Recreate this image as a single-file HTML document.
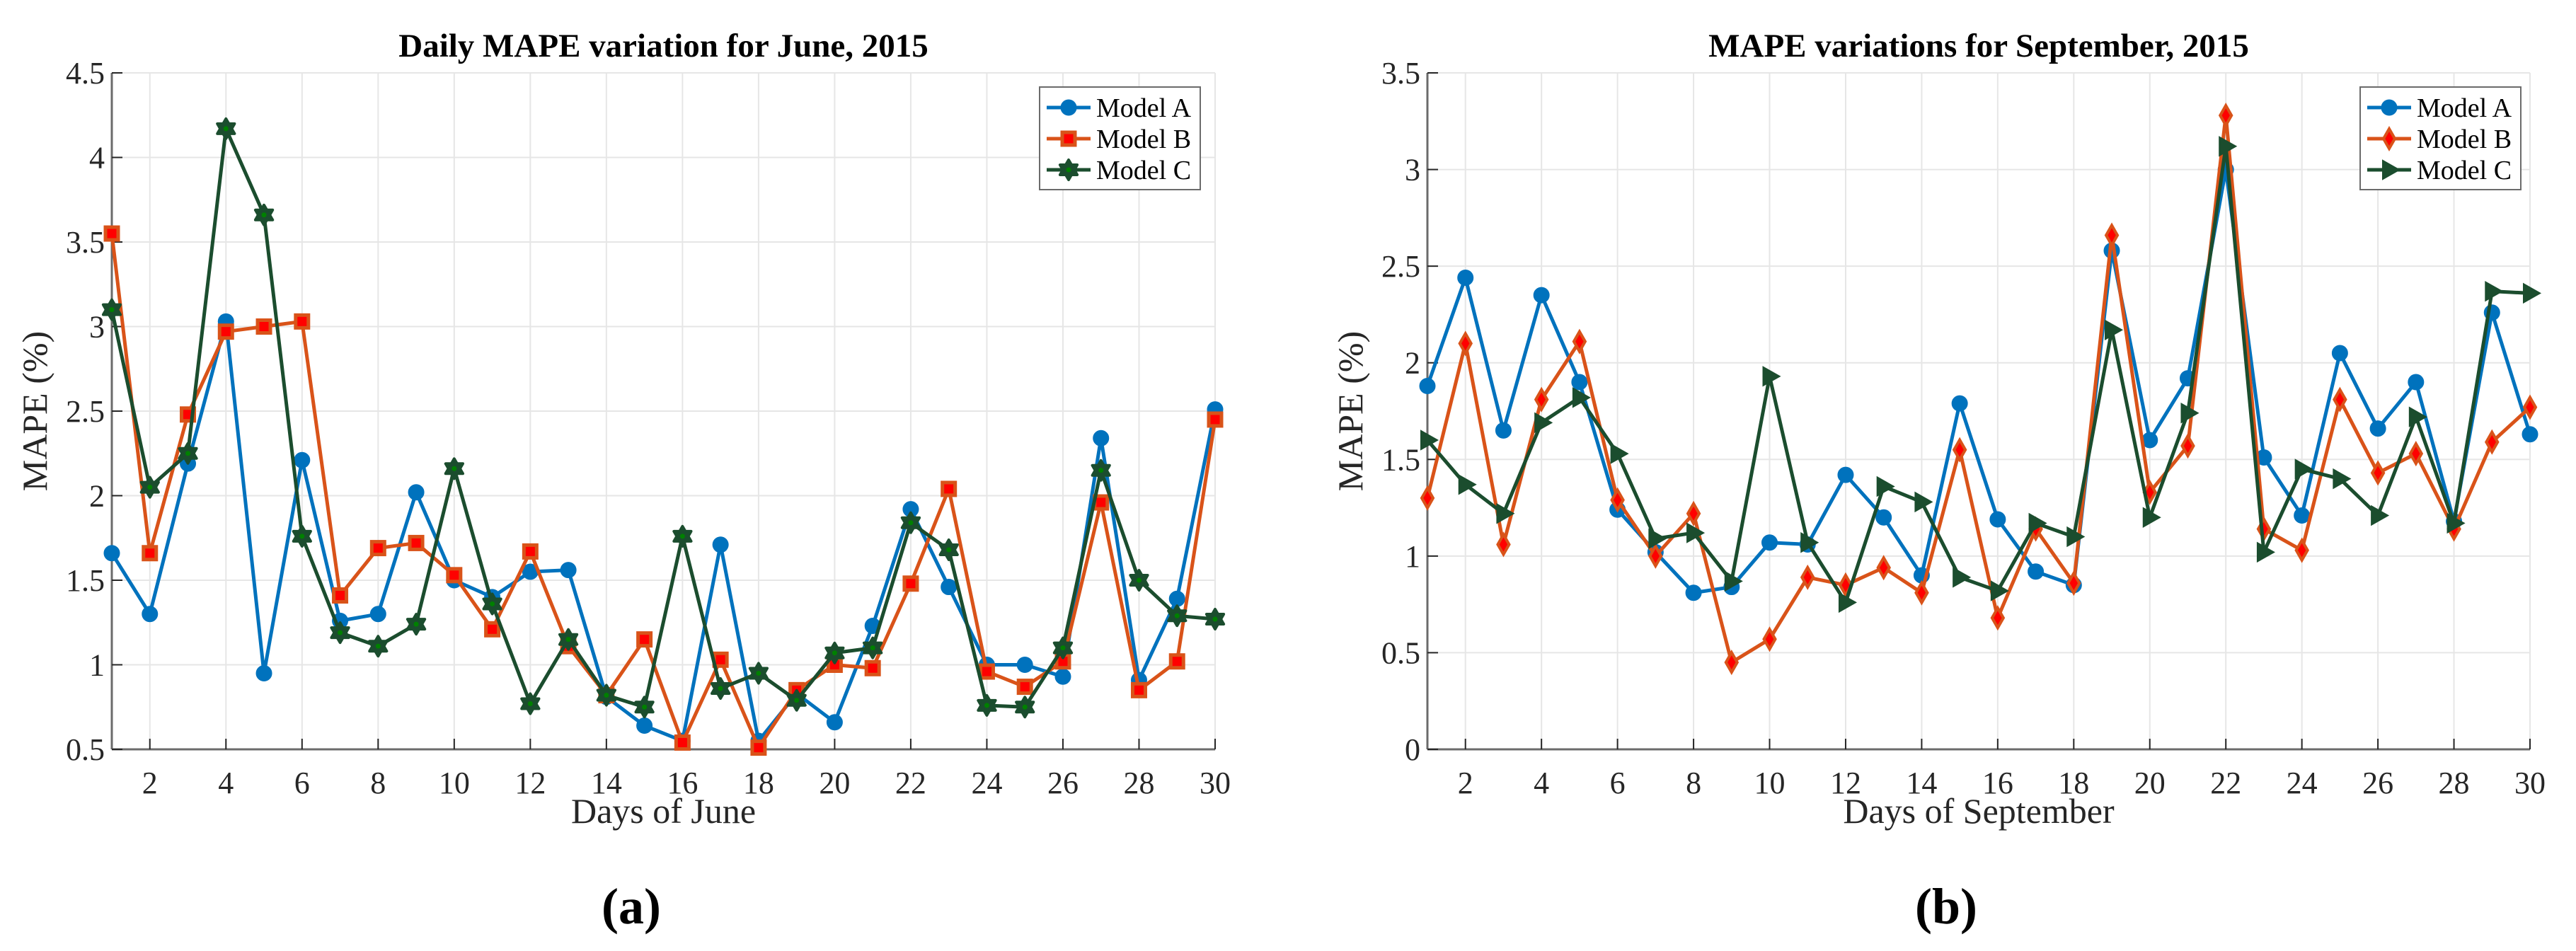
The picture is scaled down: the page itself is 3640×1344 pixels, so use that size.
<!DOCTYPE html>
<html><head><meta charset="utf-8"><style>
html,body{margin:0;padding:0;background:#fff;}
svg{display:block;font-family:"Liberation Serif",serif;}
</style></head><body>
<svg id="fig" width="3640" height="1344" viewBox="0 0 3640 1344" xmlns="http://www.w3.org/2000/svg"></svg>
<script>
const days = Array.from({length:30},(_,i)=>i+1);
const xTicks = [2,4,6,8,10,12,14,16,18,20,22,24,26,28,30];
const juneYTicks = [0.5,1,1.5,2,2.5,3,3.5,4,4.5];
const juneYLabels = ["0.5","1","1.5","2","2.5","3","3.5","4","4.5"];
const septYTicks = [0,0.5,1,1.5,2,2.5,3,3.5];
const septYLabels = ["0","0.5","1","1.5","2","2.5","3","3.5"];
const juneA = [1.66,1.30,2.19,3.03,0.95,2.21,1.26,1.30,2.02,1.50,1.40,1.55,1.56,0.81,0.64,0.55,1.71,0.55,0.83,0.66,1.23,1.92,1.46,1.00,1.00,0.93,2.34,0.91,1.39,2.51];
const juneB = [3.55,1.66,2.48,2.97,3.00,3.03,1.41,1.69,1.72,1.53,1.21,1.67,1.11,0.82,1.15,0.54,1.03,0.51,0.85,1.00,0.98,1.48,2.04,0.96,0.87,1.02,1.96,0.85,1.02,2.45];
const juneC = [3.10,2.05,2.25,4.17,3.66,1.76,1.19,1.11,1.24,2.16,1.36,0.77,1.15,0.82,0.75,1.76,0.86,0.95,0.79,1.07,1.10,1.84,1.68,0.76,0.75,1.10,2.15,1.50,1.29,1.27];
const septA = [1.88,2.44,1.65,2.35,1.90,1.24,1.02,0.81,0.84,1.07,1.06,1.42,1.20,0.90,1.79,1.19,0.92,0.85,2.58,1.60,1.92,3.00,1.51,1.21,2.05,1.66,1.90,1.18,2.26,1.63];
const septB = [1.30,2.10,1.06,1.81,2.11,1.29,1.00,1.22,0.45,0.57,0.89,0.85,0.94,0.81,1.55,0.68,1.14,0.86,2.66,1.33,1.57,3.28,1.14,1.03,1.81,1.43,1.53,1.14,1.59,1.77];
const septC = [1.60,1.37,1.22,1.69,1.82,1.53,1.09,1.12,0.87,1.93,1.07,0.76,1.36,1.28,0.89,0.82,1.17,1.10,2.17,1.20,1.74,3.12,1.02,1.45,1.40,1.21,1.72,1.17,2.37,2.36];
const seriesNames = ["Model A","Model B","Model C"];

const NS="http://www.w3.org/2000/svg";
const svg=document.getElementById('fig');
function mk(tag,attrs,parent){const e=document.createElementNS(NS,tag);for(const k in attrs)e.setAttribute(k,attrs[k]);(parent||svg).appendChild(e);return e;}
const COL={A:"#0072BD",B:"#D95319",C:"#1B4D2E"};

function marker(g,type,x,y){
  let m;
  if(type==='circle'){m=mk('circle',{cx:x,cy:y,r:11,fill:COL.A,stroke:COL.A,'stroke-width':1},g);}
  else if(type==='square'){m=mk('rect',{x:x-9,y:y-9,width:18,height:18,fill:'#ff0000',stroke:COL.B,'stroke-width':5},g);}
  else if(type==='diamond'){m=mk('polygon',{points:`${x},${y-14} ${x+8},${y} ${x},${y+14} ${x-8},${y}`,fill:'#ff0000',stroke:COL.B,'stroke-width':4},g);}
  else if(type==='hexagram'){const r=14,pts1=[],pts2=[];for(let i=0;i<3;i++){let a=-Math.PI/2+i*2*Math.PI/3;pts1.push((x+r*Math.cos(a)).toFixed(1)+','+(y+r*Math.sin(a)).toFixed(1));a+=Math.PI;pts2.push((x+r*Math.cos(a)).toFixed(1)+','+(y+r*Math.sin(a)).toFixed(1));}
    m=mk('g',{},g);mk('polygon',{points:pts1.join(' '),fill:COL.C,stroke:COL.C,'stroke-width':4,'stroke-linejoin':'round'},m);mk('polygon',{points:pts2.join(' '),fill:COL.C,stroke:COL.C,'stroke-width':4,'stroke-linejoin':'round'},m);
    mk('circle',{cx:x,cy:y,r:3.5,fill:'#008000'},m);}
  else if(type==='triangle'){m=mk('polygon',{points:`${x+14},${y} ${x-9},${y-13} ${x-9},${y+13}`,fill:COL.C,stroke:COL.C,'stroke-width':2},g);}
  return m;
}

function chart(cfg){
  const g=mk('g',{});
  
  
  const L=cfg.L,R=cfg.R,T=cfg.T,Bt=cfg.Bt,ymin=cfg.ymin,ymax=cfg.ymax;
  const xs=d=>L+(d-1)*(R-L)/29;
  const ys=v=>Bt-(v-ymin)*(Bt-T)/(ymax-ymin);
  const grid=mk('g',{},g);
  
  
  xTicks.forEach(t=>mk('line',{x1:xs(t),x2:xs(t),y1:T,y2:Bt,stroke:'#e6e6e6','stroke-width':2},grid));
  cfg.yTicks.forEach(t=>mk('line',{x1:L,x2:R,y1:ys(t),y2:ys(t),stroke:'#e6e6e6','stroke-width':2},grid));
  const ax=mk('g',{},g);
  
  
  mk('line',{x1:L,x2:R,y1:Bt,y2:Bt,stroke:'#6b6b6b','stroke-width':3},ax);
  mk('line',{x1:L,x2:L,y1:T,y2:Bt,stroke:'#6b6b6b','stroke-width':3},ax);
  xTicks.forEach(t=>{mk('line',{x1:xs(t),x2:xs(t),y1:Bt,y2:Bt-15,stroke:'#262626','stroke-width':2},ax);
    const tx=mk('text',{x:xs(t),y:Bt+62,'text-anchor':'middle','font-size':44,fill:'#262626'},ax);tx.textContent=t;
    
    });
  cfg.yTicks.forEach((t,i)=>{mk('line',{x1:L,x2:L+15,y1:ys(t),y2:ys(t),stroke:'#262626','stroke-width':2},ax);
    const tx=mk('text',{x:L-10,y:ys(t)+15,'text-anchor':'end','font-size':44,fill:'#262626'},ax);tx.textContent=cfg.yLabels[i];
    
    });
  const ti=mk('text',{x:(L+R)/2,y:80,'text-anchor':'middle','font-size':47,'font-weight':'bold',fill:'#000'},g);ti.textContent=cfg.title;
  
  
  const xl=mk('text',{x:(L+R)/2,y:1163,'text-anchor':'middle','font-size':50,fill:'#262626'},g);xl.textContent=cfg.xlabel;
  
  
  const yl=mk('text',{x:0,y:0,'text-anchor':'middle','font-size':50,fill:'#262626',transform:`translate(${L-92},${(T+Bt)/2}) rotate(-90)`},g);yl.textContent="MAPE (%)";
  
  
  const pl=mk('text',{x:cfg.labX,y:1305,'text-anchor':'middle','font-size':72,'font-weight':'bold',fill:'#000'},g);pl.textContent=cfg.panel;
  
  
  const defs=[{d:cfg.sA,c:COL.A,m:'circle'},{d:cfg.sB,c:COL.B,m:cfg.mB},{d:cfg.sC,c:COL.C,m:cfg.mC}];
  defs.forEach((s,si)=>{
    const sg=mk('g',{},g);
    
    
    mk('polyline',{points:s.d.map((v,i)=>xs(days[i])+','+ys(v)).join(' '),fill:'none',stroke:s.c,'stroke-width':5,'stroke-linejoin':'round'},sg);
    s.d.forEach((v,i)=>{const m=marker(sg,s.m,xs(days[i]),ys(v));
      
      });
  });
  const lg=mk('g',{},g);
  
  
  const lx=cfg.legX;
  mk('rect',{x:lx,y:123,width:227,height:145,fill:'#fff',stroke:'#6b6b6b','stroke-width':2},lg);
  defs.forEach((s,si)=>{
    const ey=152+si*44;
    const eg=mk('g',{},lg);
    
    
    mk('line',{x1:lx+10,x2:lx+72,y1:ey,y2:ey,stroke:s.c,'stroke-width':5},eg);
    marker(eg,s.m,lx+41,ey);
    const t=mk('text',{x:lx+80,y:ey+13,'font-size':38,fill:'#000'},eg);t.textContent=seriesNames[si];
  });
}
chart({name:'june-chart',L:158,R:1717,T:103,Bt:1059,ymin:0.5,ymax:4.5,yTicks:juneYTicks,yLabels:juneYLabels,
  title:"Daily MAPE variation for June, 2015",xlabel:"Days of June",panel:"(a)",labX:892,sA:juneA,sB:juneB,sC:juneC,mB:'square',mC:'hexagram',legX:1469});
chart({name:'september-chart',L:2017,R:3575,T:103,Bt:1059,ymin:0,ymax:3.5,yTicks:septYTicks,yLabels:septYLabels,
  title:"MAPE variations for September, 2015",xlabel:"Days of September",panel:"(b)",labX:2750,sA:septA,sB:septB,sC:septC,mB:'diamond',mC:'triangle',legX:3335});
</script>
</body></html>
